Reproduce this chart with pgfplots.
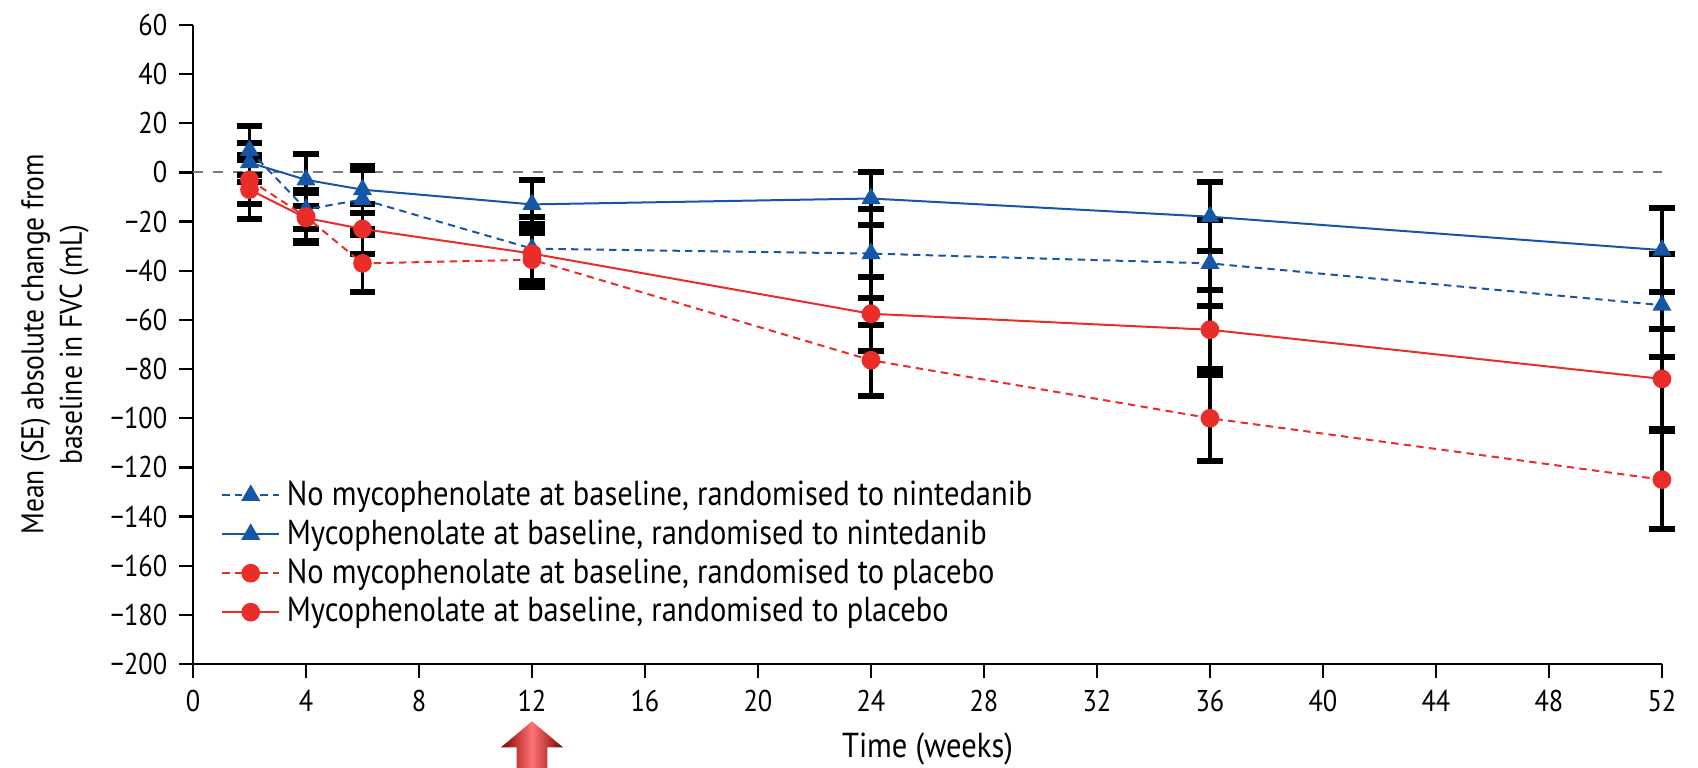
\documentclass[border=0pt]{standalone}
\usepackage{pgfplots}
\pgfplotsset{compat=1.18}
\usepackage{pgfplotstable}
\usepackage{fontspec}
\setmainfont{PT Sans}[FakeStretch=0.88]

\definecolor{lblue}{RGB}{22,86,166}
\definecolor{lred}{RGB}{234,45,40}
\definecolor{zgray}{RGB}{110,128,134}

% No mycophenolate, nintedanib
\pgfplotstableread{
w v e
2 9 10
4 -15 8
6 -11 12
12 -31 13
24 -33 18
36 -37 17.5
52 -54 21
}\tabA
% Mycophenolate, nintedanib
\pgfplotstableread{
w v e
2 4 8
4 -3 10.5
6 -7 9.5
12 -13 10
24 -10.6 10.8
36 -18 14
52 -31.6 17
}\tabB
% No mycophenolate, placebo
\pgfplotstableread{
w v e
2 -3 10
4 -18 10
6 -37 11.5
12 -35.5 11
24 -76.4 14.5
36 -100 17.5
52 -125 20
}\tabC
% Mycophenolate, placebo
\pgfplotstableread{
w v e
2 -7 12
4 -18.5 10
6 -23 10
12 -33 12
24 -57.5 15
36 -64 16
52 -84 20.5
}\tabD

\begin{document}
\begin{tikzpicture}[font=\fontsize{9}{11}\selectfont]
\useasboundingbox (-57.9pt,-31.2pt) rectangle (451.5pt,199.2pt);
\begin{axis}[
  scale only axis, width=440.7pt, height=191.7pt,
  xmin=0, xmax=52, ymin=-200, ymax=60,
  axis lines=left, axis line style={-, black, line width=0.7pt},
  xtick={0,4,...,52},
  ytick={-200,-180,...,60},
  yticklabels={−200,−180,−160,−140,−120,−100,−80,−60,−40,−20,0,20,40,60},
  /pgf/number format/assume math mode=true,
  tick align=outside, major tick length=4.2pt,
  tick style={black, line width=0.7pt},
  tick label style={font=\fontsize{9}{10}\selectfont},
  xlabel={Time (weeks)},
  xlabel style={at={(axis description cs:0.5,-0.133)}, anchor=center, font=\fontsize{10.4}{12}\selectfont},
  ylabel={Mean (SE) absolute change from\\baseline in FVC (mL)},
  ylabel style={at={(axis description cs:-0.094,0.5)}, anchor=center, align=center, font=\fontsize{9.4}{11.5}\selectfont},
  legend style={at={(axis description cs:0.012,0.309)}, anchor=north west, draw=none, fill=none,
    font=\fontsize{10.4}{12}\selectfont, row sep=-1.2pt},
  legend cell align=left,
  clip=false,
]
\addplot[forget plot, zgray, dashed, line width=0.6pt] coordinates {(0,0) (52,0)};

\pgfplotsset{errstyle/.style={forget plot, draw=none, mark=none,
  error bars/.cd, y dir=both, y explicit,
  error bar style={draw=black, line width=1pt, solid},
  error mark options={draw=black, line width=1.8pt, mark size=3.8pt, rotate=90}}}
\addplot[errstyle] table[x=w, y=v, y error=e] {\tabA};
\addplot[errstyle] table[x=w, y=v, y error=e] {\tabB};
\addplot[errstyle] table[x=w, y=v, y error=e] {\tabC};
\addplot[errstyle] table[x=w, y=v, y error=e] {\tabD};

\addplot[lblue, line width=0.6pt, dash pattern=on 2.2pt off 1.6pt, mark=triangle*, mark size=2.7pt, mark options={solid}] table[x=w, y=v] {\tabA};
\addlegendentry{No mycophenolate at baseline, randomised to nintedanib}
\addplot[lblue, line width=0.6pt, mark=triangle*, mark size=2.7pt, mark options={solid}] table[x=w, y=v] {\tabB};
\addlegendentry{Mycophenolate at baseline, randomised to nintedanib}
\addplot[lred, line width=0.6pt, dash pattern=on 2.2pt off 1.6pt, mark=*, mark size=2.5pt, mark options={solid}] table[x=w, y=v] {\tabC};
\addlegendentry{No mycophenolate at baseline, randomised to placebo}
\addplot[lred, line width=0.6pt, mark=*, mark size=2.5pt, mark options={solid}] table[x=w, y=v] {\tabD};
\addlegendentry{Mycophenolate at baseline, randomised to placebo}

\coordinate (a12) at (axis cs:12,-200);
\end{axis}
\begin{scope}[shift={(a12)}]
\shade[left color=red!50!black, right color=red!50!black, middle color=red!55!white]
  (0,-17.2pt) -- (9.3pt,-25pt) -- (4.6pt,-25pt) -- (4.6pt,-32pt) -- (-4.6pt,-32pt) -- (-4.6pt,-25pt) -- (-9.3pt,-25pt) -- cycle;
\end{scope}
\end{tikzpicture}
\end{document}
